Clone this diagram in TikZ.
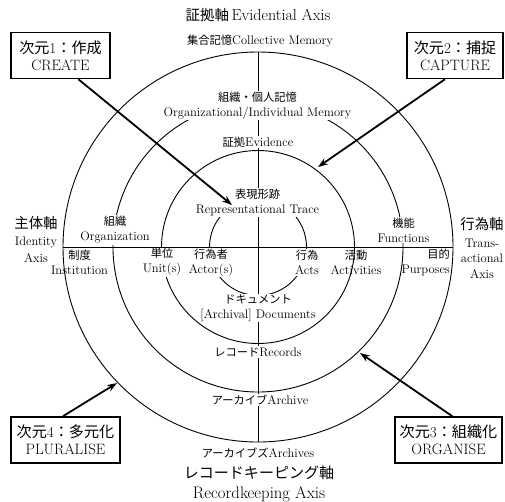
\documentclass[tikz,border=0pt]{standalone}
\usepackage{fontspec}
\newfontfamily\jp{Noto Sans CJK JP}[Scale=0.9]
\usetikzlibrary{arrows.meta}
\newcommand\bj[1]{{\fontsize{16.8}{17}\selectfont\jp #1}}
\newcommand\aj[1]{{\fontsize{16}{17}\selectfont\jp #1}}
\tikzset{
  ring/.style={line width=0.9pt},
  lbl/.style={font=\fontsize{12.5}{15}\selectfont, align=center, inner sep=1pt},
  lblw/.style={lbl, fill=white},
  axtitle/.style={font=\fontsize{16}{20}\selectfont, align=center, inner sep=1pt},
  dimbox/.style={draw, line width=1.6pt, font=\fontsize{15}{17}\selectfont, align=center, inner xsep=3pt, minimum height=46pt},
  dimarrow/.style={line width=1.8pt, -{Stealth[length=10pt,width=7pt]}},
}
\begin{document}
\begin{tikzpicture}[x=1pt,y=-1pt]
\useasboundingbox (0,0) rectangle (505,501);
\coordinate (O) at (258,247);
\coordinate (axL) at (63,247);
\coordinate (axR) at (453,247);
\coordinate (axT) at (258,52);
\coordinate (axB) at (258,442);
% rings
\draw[ring] (O) circle[radius=48.5pt];
\draw[ring] (O) circle[radius=96.5pt];
\draw[ring] (O) circle[radius=145pt];
\draw[ring] (O) circle[radius=195pt];
\draw[ring] (axT) -- (axB);
% labels
\node[axtitle] (tEvid) at (258,15) {{\jp 証拠軸}\,Evidential Axis};
\node[lbl] (colmem) at (260,41) {{\jp 集合記憶}Collective Memory};
\node[lblw] (orgmem) at (257.5,105.5) {{\jp 組織・個人記憶}\\Organizational/Individual Memory};
\node[lblw] (evid) at (258,142) {{\jp 証拠}Evidence};
\node[lblw] (trace) at (257.5,202.5) {{\jp 表現形跡}\\Representational Trace};
\node[lbl, font=\fontsize{12.5}{17}\selectfont] (ident) at (36,240) {\aj{主体軸}\\Identity\\Axis};
\node[lblw] (orgn) at (115,230) {{\jp 組織}\\Organization};
\node[lbl] (inst) at (79.5,262) {{\jp 制度}\\Institution};
\node[lblw] (unit) at (162,262) {{\jp 単位}\\Unit(s)};
\node[lblw] (actor) at (211,262.5) {{\jp 行為者}\\Actor(s)};
\node[lblw] (acts) at (307,262.5) {{\jp 行為}\\Acts};
\node[lbl] (activ) at (356,262) {{\jp 活動}\\Activities};
\node[lbl, align=right, anchor=east] (purp) at (451,262) {{\jp 目的}\\Purposes};
\node[lblw] (func) at (403.5,230) {{\jp 機能}\\Functions};
\node[lbl, font=\fontsize{12.5}{15.5}\selectfont] (trans) at (482,248) {\aj{行為軸}\\[2pt]Trans-\\actional\\Axis};
\node[lblw, inner ysep=0.5pt] (docs) at (258,308) {{\jp ドキュメント}\\{[}Archival{]} Documents};
\node[lblw] (recs) at (258,352) {{\jp レコード}Records};
\node[lblw] (arch) at (260,400) {{\jp アーカイブ}Archive};
\node[lbl] (archs) at (258,453) {{\jp アーカイブズ}Archives};
\node[axtitle, font=\fontsize{16.7}{20}\selectfont] (tRec) at (259,484) {{\jp レコードキーピング軸}\\Recordkeeping Axis};
% horizontal axis on top of label fills
\draw[ring] (axL) -- (axR);
% dimension boxes
\node[dimbox, minimum width=99pt] (create) at (60.5,55.5) {\bj{次元}1\bj{：作成}\\CREATE};
\node[dimbox, minimum width=96pt] (capture) at (455,55.5) {\bj{次元}2\bj{：捕捉}\\CAPTURE};
\node[dimbox, minimum width=109pt] (plural) at (65.5,440) {\bj{次元}4\bj{：多元化}\\PLURALISE};
\node[dimbox, minimum width=107pt] (organise) at (448.5,440) {\bj{次元}3\bj{：組織化}\\ORGANISE};
% arrow tips
\coordinate (tipA) at (232,205);
\coordinate (tipB) at (318,167);
\coordinate (tipC) at (117,383);
\coordinate (tipD) at (360,353);
\draw[dimarrow] (create.-53) -- (tipA);
\draw[dimarrow] (capture.-113) -- (tipB);
\draw[dimarrow] (plural.96) -- (tipC);
\draw[dimarrow] (organise.81) -- (tipD);
\end{tikzpicture}
\end{document}
